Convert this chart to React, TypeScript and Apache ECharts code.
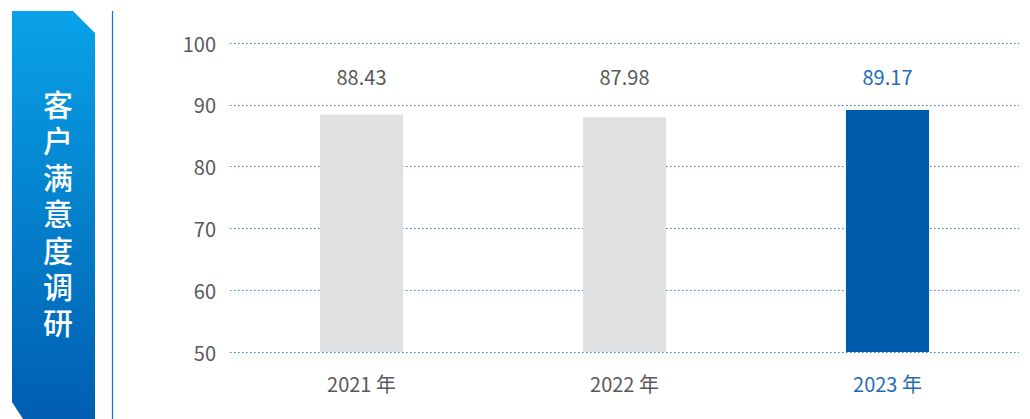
import React, { useEffect, useRef } from "react";
import * as echarts from "echarts";

const categories = ["2021 年", "2022 年", "2023 年"];
const scores = [88.43, 87.98, 89.17];
const barColors = ["#dfe0e1", "#dfe0e1", "#005bac"];
const labelColors = ["#595959", "#595959", "#1f6db5"];
const yTicks = { min: 50, max: 100, interval: 10 };
const labelLevel = 94.5;
const title = "客户满意度调研";

export default function App() {
  const ref = useRef<HTMLDivElement>(null);
  useEffect(() => {
    const chart = echarts.init(ref.current!, null, { renderer: "svg" });
    const font = '"Noto Sans CJK SC", "Noto Sans", sans-serif';
    const titleChars = title.split("").map((ch, i) => ({
      type: "text",
      x: 58,
      y: 103 + i * 36.4,
      style: {
        text: ch,
        fill: "#ffffff",
        fontSize: 30,
        lineHeight: 34,
        fontWeight: 500,
        fontFamily: font,
        align: "center",
        verticalAlign: "middle",
      },
    }));
    chart.setOption({
      animation: false,
      textStyle: { fontFamily: font },
      grid: { left: 230, right: 11, top: 43, bottom: 67, containLabel: false },
      xAxis: {
        type: "category",
        data: categories,
        axisLine: { show: false },
        axisTick: { show: false },
        axisLabel: {
          margin: 21,
          fontSize: 20,
          fontFamily: font,
          color: (v: string, i: number) => labelColors[i],
        },
      },
      yAxis: {
        type: "value",
        min: yTicks.min,
        max: yTicks.max,
        interval: yTicks.interval,
        axisLine: { show: false },
        axisTick: { show: false },
        axisLabel: { fontSize: 20, color: "#595959", margin: 14, fontFamily: font },
        splitLine: { lineStyle: { color: "#2f7fc8", type: [1.5, 2.5], width: 1 } },
      },
      series: [
        {
          type: "bar",
          barWidth: "31.6%",
          data: scores.map((v, i) => ({ value: v, itemStyle: { color: barColors[i] } })),
        },
        {
          type: "scatter",
          symbolSize: 0,
          silent: true,
          itemStyle: { opacity: 1 },
          data: scores.map((v, i) => ({
            value: [i, labelLevel],
            label: {
              show: true,
              position: "inside",
              formatter: v.toFixed(2),
              fontSize: 20,
              fontFamily: font,
              color: labelColors[i],
              opacity: 1,
            },
          })),
        },
      ],
      graphic: [
        {
          type: "polygon",
          shape: {
            points: [
              [12, 11],
              [73, 11],
              [95, 33],
              [95, 419],
              [23, 419],
              [12, 402],
            ],
          },
          style: {
            fill: new echarts.graphic.LinearGradient(0, 0, 0, 1, [
              { offset: 0, color: "#08a2e8" },
              { offset: 1, color: "#005eb0" },
            ]),
          },
        },
        ...titleChars,
        {
          type: "line",
          shape: { x1: 112.5, y1: 11, x2: 112.5, y2: 419 },
          style: { stroke: "#1a6fc4", lineWidth: 1.2 },
        },
      ],
    });
    return () => chart.dispose();
  }, []);
  return <div ref={ref} style={{ width: 1030, height: 419, position: "absolute", left: 0, top: 0 }} />;
}
